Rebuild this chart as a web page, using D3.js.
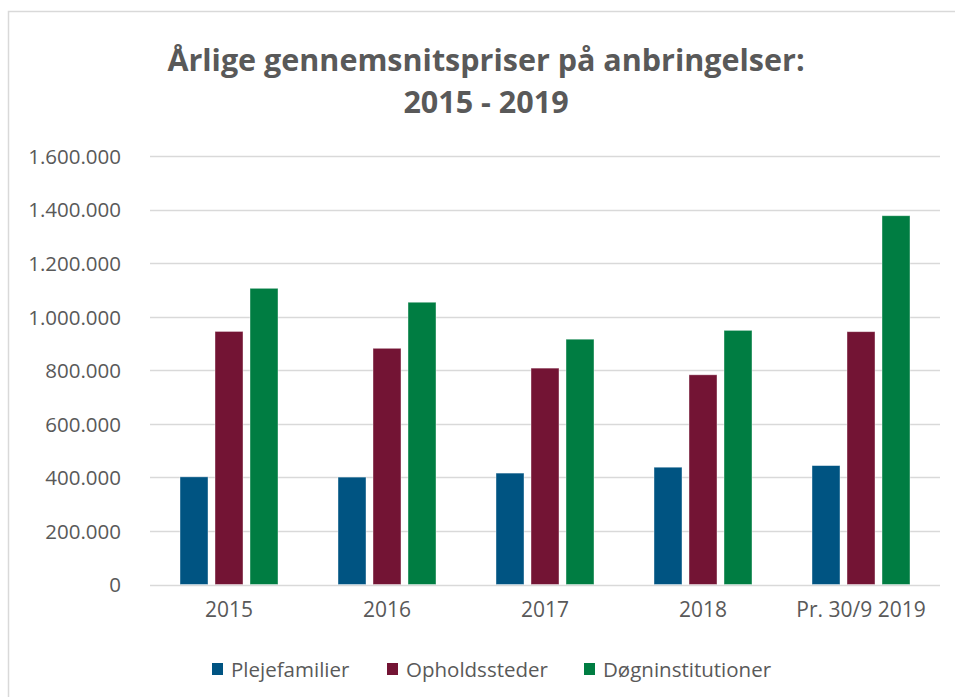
<!DOCTYPE html>
<html lang="da">
<head>
<meta charset="utf-8">
<title>Årlige gennemsnitspriser på anbringelser</title>
<script src="https://cdn.jsdelivr.net/npm/d3@7/dist/d3.min.js"></script>
<style>
  html, body { margin: 0; padding: 0; background: #fff; }
  svg { display: block; }
  text { font-family: "Open Sans", "Noto Sans", sans-serif; fill: #595959; }
</style>
</head>
<body>
<svg id="chart" width="955" height="697"></svg>
<script>
// Years / periods on the x axis
const categories = ["2015", "2016", "2017", "2018", "Pr. 30/9 2019"];

// Average annual price per placement type (kr.)
const plejefamilier      = [402000, 401000, 416000, 438000, 444000];
const opholdssteder      = [945000, 882000, 808000, 783000, 944000];
const doegninstitutioner = [1106000, 1054000, 916000, 949000, 1377000];

const seriesNames  = ["Plejefamilier", "Opholdssteder", "Døgninstitutioner"];
const seriesColors = ["#005482", "#731434", "#007D42"];
const yTicks = [0, 200000, 400000, 600000, 800000, 1000000, 1200000, 1400000, 1600000];

const titleLines = ["Årlige gennemsnitspriser på anbringelser:", "2015 - 2019"];

const seriesValues = [plejefamilier, opholdssteder, doegninstitutioner];
const rows = categories.map((c, i) => ({
  category: c,
  values: seriesNames.map((s, j) => ({ series: s, value: seriesValues[j][i], idx: j }))
}));

const svg = d3.select("#chart");
const W = 955, H = 697;
const plot = { left: 150, right: 940, top: 156, bottom: 584.5 };
const labelSize = "20.5px";

// Danish number format: 1.600.000
const da = d3.formatLocale({ decimal: ",", thousands: ".", grouping: [3], currency: ["", " kr."] });
const fmt = da.format(",d");

// Outer frame of the chart area
svg.append("rect")
  .attr("x", 8.5).attr("y", 11.5)
  .attr("width", W + 20).attr("height", H + 20)
  .attr("fill", "none")
  .attr("stroke", "#d9d9d9")
  .attr("stroke-width", 1.5);

// Title
const title = svg.append("text")
  .attr("text-anchor", "middle")
  .style("font-weight", 700)
  .style("font-size", "30.5px");
title.selectAll("tspan").data(titleLines).join("tspan")
  .attr("x", 486)
  .attr("y", (d, i) => 71 + i * 42)
  .text(d => d);

// Scales
const x0 = d3.scaleBand().domain(categories).range([plot.left, plot.right]).paddingInner(0).paddingOuter(0);
const x1 = d3.scaleBand().domain(seriesNames).range([30, 128]).paddingInner(0.2);
const y = d3.scaleLinear().domain([0, 1600000]).range([plot.bottom, plot.top]);

// Horizontal gridlines
svg.append("g")
  .selectAll("line").data(yTicks).join("line")
  .attr("x1", plot.left).attr("x2", plot.right)
  .attr("y1", d => Math.round(y(d)) + 0.5)
  .attr("y2", d => Math.round(y(d)) + 0.5)
  .attr("stroke", "#d9d9d9")
  .attr("stroke-width", 1.3);

// Y axis labels
const yAxis = d3.axisLeft(y).tickValues(yTicks).tickFormat(fmt).tickSize(0).tickPadding(0);
const gy = svg.append("g").attr("transform", "translate(121,0)").call(yAxis);
gy.select(".domain").remove();
gy.selectAll("text")
  .style("font-size", labelSize)
  .style("font-family", "'Open Sans', sans-serif")
  .attr("fill", "#595959")
  .attr("dy", "0.36em");

// Bars
const groups = svg.append("g").selectAll("g").data(rows).join("g")
  .attr("transform", d => `translate(${x0(d.category)},0)`);
groups.selectAll("rect").data(d => d.values).join("rect")
  .attr("x", d => x1(d.series))
  .attr("width", x1.bandwidth())
  .attr("y", d => y(d.value))
  .attr("height", d => y(0) - y(d.value))
  .attr("fill", d => seriesColors[d.idx])
  .attr("stroke", "#ffffff")
  .attr("stroke-opacity", 0.5)
  .attr("stroke-width", 0.8);

// X axis labels
const xAxis = d3.axisBottom(x0).tickSize(0).tickPadding(0);
const gx = svg.append("g").attr("transform", "translate(0,602)").call(xAxis);
gx.select(".domain").remove();
gx.selectAll("text")
  .style("font-size", "21px")
  .style("font-family", "'Open Sans', sans-serif")
  .attr("fill", "#595959")
  .attr("dy", "0.71em");

// Legend
const legendX = [212, 387, 584];
const legend = svg.append("g").selectAll("g").data(seriesNames).join("g")
  .attr("transform", (d, i) => `translate(${legendX[i]},663)`);
legend.append("rect")
  .attr("width", 11).attr("height", 12)
  .attr("fill", (d, i) => seriesColors[i]);
legend.append("text")
  .attr("x", 19).attr("y", 14)
  .style("font-size", labelSize)
  .text(d => d);
</script>
</body>
</html>
